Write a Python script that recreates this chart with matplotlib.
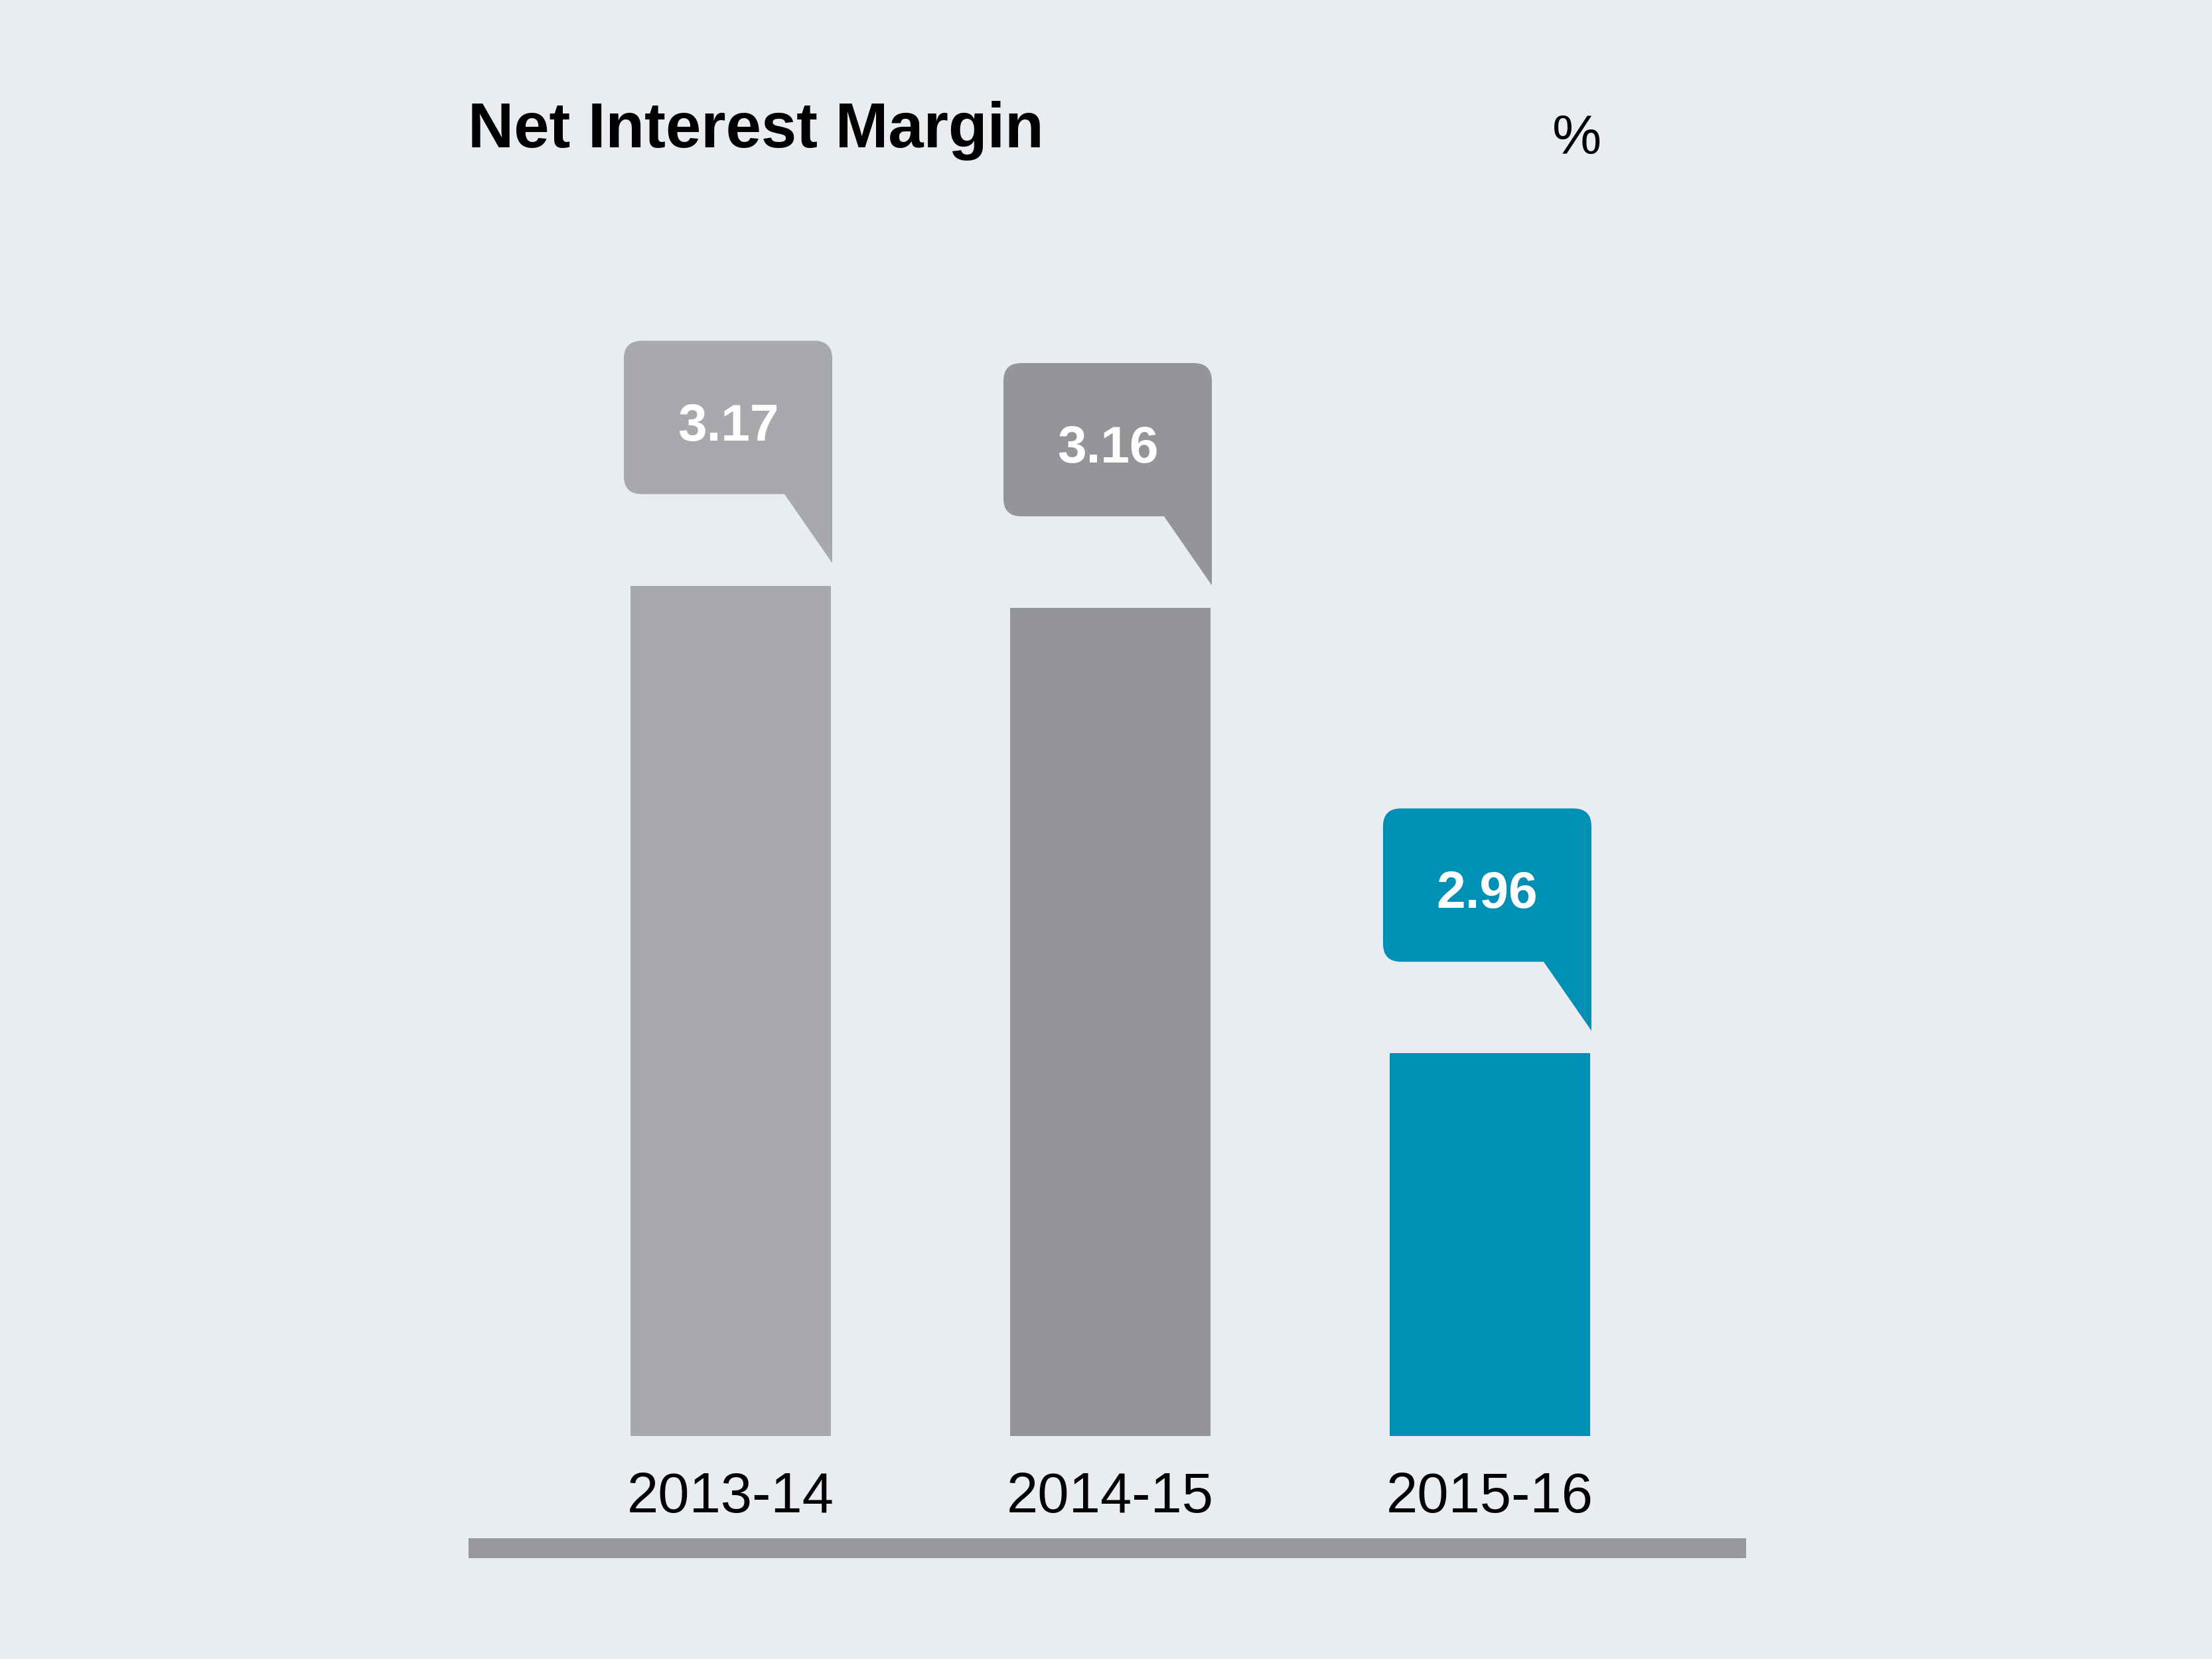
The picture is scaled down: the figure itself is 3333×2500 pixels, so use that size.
#import modules
import numpy as np
import matplotlib
matplotlib.use('Agg')
import matplotlib.pyplot as plt
from matplotlib.path import Path
from matplotlib.patches import PathPatch
from matplotlib.transforms import IdentityTransform

#chart data
years = ['2013-14', '2014-15', '2015-16']
nim = [3.17, 3.16, 2.96]
bar_colors = ['#a8a9ad', '#939598', '#0090b5']

#colours and layout
bg = '#e9edf2'
base = 2.788 #value where the bars start
plt.rcParams['font.family'] = ['Liberation Sans', 'DejaVu Sans']

fig = plt.figure(figsize=(3333/300, 2500/300), dpi=300, facecolor=bg)
#axes fill the figure vertically, horizontally they span the grey base strip
ax = fig.add_axes([706/3333, 0, (2631-706)/3333, 1])
ax.set_facecolor(bg)
ax.set_xlim(-0.6906, 2.675)
ax.set_ylim(2.688, 3.433)
ax.axis('off')

x = np.arange(len(years))
width = 0.528
ax.bar(x, np.array(nim) - base, width=width, bottom=base, color=bar_colors)

#grey strip under the labels
ax.axhspan(2.788 - 0.0458, 2.788 - 0.0548, color='#97989b', lw=0)

#year labels under the bars
for i, yr in enumerate(years):
    ax.text(x[i], 2.788 - 0.0340, yr, ha='center', va='baseline', fontsize=20.4, color='black')

fig.canvas.draw()

#speech bubble callouts, sized in pixels and anchored to the bar tops
def callout(xr, yt, color):
    xl = xr - 312
    top = yt + 369
    bot = yt + 138
    tip = yt + 34
    r = 27
    xr2 = xr + 2
    verts = [(xr2, tip), (xr2, top - r), (xr2, top), (xr2 - r, top),
             (xl + r, top), (xl, top), (xl, top - r),
             (xl, bot + r), (xl, bot), (xl + r, bot),
             (xr - 70, bot), (xr2, tip)]
    codes = [Path.MOVETO, Path.LINETO, Path.CURVE3, Path.CURVE3,
             Path.LINETO, Path.CURVE3, Path.CURVE3,
             Path.LINETO, Path.CURVE3, Path.CURVE3,
             Path.LINETO, Path.CLOSEPOLY]
    p = PathPatch(Path(verts, codes), facecolor=color, edgecolor='none', transform=IdentityTransform())
    fig.patches.append(p)
    return (xl + xr2) / 2, yt + 219

for i, v in enumerate(nim):
    xr, yt = ax.transData.transform((x[i] + width/2, v))
    cx, cy = callout(xr, yt, bar_colors[i])
    fig.text(cx/3333, cy/2500, f'{v:.2f}', ha='center', va='baseline', fontsize=18.8,
             fontweight='bold', color='white', family=['Liberation Sans Narrow', 'Liberation Sans'])

#title and unit
fig.text(705/3333, 1 - 222/2500, 'Net Interest Margin', ha='left', va='baseline',
         fontsize=23, fontweight='bold', color='black')
fig.text(2339/3333, 1 - 232/2500, '%', ha='left', va='baseline', fontsize=20, color='black')

fig.savefig('out.png', dpi=300, facecolor=bg)
